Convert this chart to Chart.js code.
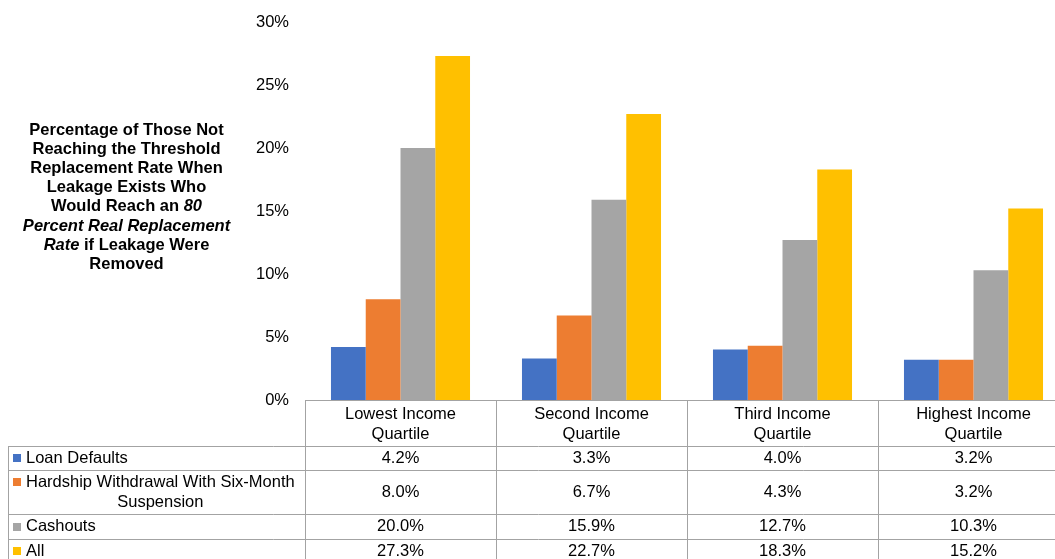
<!DOCTYPE html>
<html>
<head>
<meta charset="utf-8">
<script src="https://cdn.jsdelivr.net/npm/chart.js@4/dist/chart.umd.min.js"></script>
<style>
  html, body { margin: 0; padding: 0; background: #fff; overflow: hidden; }
  #wrap { position: relative; width: 1075px; height: 559px; }
</style>
</head>
<body>
<div id="wrap"><canvas id="c"></canvas></div>
<script>
// chart data
const categories = [
  ['Lowest Income', 'Quartile'],
  ['Second Income', 'Quartile'],
  ['Third Income', 'Quartile'],
  ['Highest Income', 'Quartile']
];
const seriesNames = [
  ['Loan Defaults'],
  ['Hardship Withdrawal With Six-Month', 'Suspension'],
  ['Cashouts'],
  ['All']
];
const loanDefaults = [4.2, 3.3, 4.0, 3.2];
const hardship = [8.0, 6.7, 4.3, 3.2];
const cashouts = [20.0, 15.9, 12.7, 10.3];
const allLeakage = [27.3, 22.7, 18.3, 15.2];
const yTicks = [0, 5, 10, 15, 20, 25, 30];

const colors = ['#4472C4', '#ED7D31', '#A5A5A5', '#FFC000'];
const seriesValues = [loanDefaults, hardship, cashouts, allLeakage];

// y title, with bold / bold italic pieces
const titleLines = [
  [['Percentage of Those Not', 0]],
  [['Reaching the Threshold', 0]],
  [['Replacement Rate When', 0]],
  [['Leakage Exists Who', 0]],
  [['Would Reach an ', 0], ['80', 1]],
  [['Percent Real Replacement', 1]],
  [['Rate', 1], [' if Leakage Were', 0]],
  [['Removed', 0]]
];

const FONT = '"Liberation Sans", Arial, sans-serif';
const FS = 16.5;

const tablePlugin = {
  id: 'tablePlugin',
  afterDraw(chart) {
    const ctx = chart.ctx;
    const x = chart.scales.x;
    const area = chart.chartArea;
    const H = chart.height;
    const step = (x.right - x.left) / categories.length;
    const headerH = 46;
    const rowH = [24, 44, 25, 24];
    const leftX = 8;
    const px = v => Math.round(v) + 0.5;

    ctx.save();
    ctx.strokeStyle = '#a3a3a3';
    ctx.lineWidth = 1;
    ctx.beginPath();
    // top of header
    ctx.moveTo(x.left, px(area.bottom));
    ctx.lineTo(x.right, px(area.bottom));
    // column dividers
    for (let i = 0; i <= categories.length; i++) {
      const cx = px(x.left + i * step);
      ctx.moveTo(cx, area.bottom);
      ctx.lineTo(cx, H);
    }
    // rows
    let y = area.bottom + headerH;
    const rowTops = [];
    for (let r = 0; r < rowH.length; r++) {
      rowTops.push(y);
      ctx.moveTo(leftX, px(y));
      ctx.lineTo(x.right, px(y));
      y += rowH[r];
    }
    ctx.moveTo(leftX, px(y));
    ctx.lineTo(x.right, px(y));
    ctx.moveTo(px(leftX), rowTops[0]);
    ctx.lineTo(px(leftX), H);
    ctx.stroke();

    // cells
    ctx.fillStyle = '#000';
    ctx.font = FS + 'px ' + FONT;
    ctx.textBaseline = 'middle';
    for (let r = 0; r < seriesValues.length; r++) {
      const cy = rowTops[r] + rowH[r] / 2;
      ctx.textAlign = 'center';
      seriesValues[r].forEach((v, i) => {
        ctx.fillText(v.toFixed(1) + '%', x.left + (i + 0.5) * step, cy);
      });
      // legend label
      const lines = seriesNames[r];
      const lh = 20;
      const y0 = cy - (lines.length - 1) * lh / 2;
      const tx = 26;
      const w0 = ctx.measureText(lines[0]).width;
      ctx.fillStyle = colors[r];
      ctx.fillRect(13, Math.round(y0) - 4, 8, 8);
      ctx.fillStyle = '#000';
      ctx.textAlign = 'left';
      ctx.fillText(lines[0], tx, y0);
      ctx.textAlign = 'center';
      for (let k = 1; k < lines.length; k++) {
        ctx.fillText(lines[k], tx + w0 / 2, y0 + k * lh);
      }
    }

    // y title
    const cx = 126.5;
    let ty = 130;
    ctx.textAlign = 'left';
    titleLines.forEach(line => {
      let total = 0;
      line.forEach(seg => {
        ctx.font = (seg[1] ? 'italic bold ' : 'bold ') + FS + 'px ' + FONT;
        total += ctx.measureText(seg[0]).width;
      });
      let sx = cx - total / 2;
      line.forEach(seg => {
        ctx.font = (seg[1] ? 'italic bold ' : 'bold ') + FS + 'px ' + FONT;
        ctx.fillText(seg[0], sx, ty);
        sx += ctx.measureText(seg[0]).width;
      });
      ty += 19.2;
    });
    ctx.restore();
  }
};

new Chart(document.getElementById('c'), {
  type: 'bar',
  data: {
    labels: categories,
    datasets: seriesNames.map((n, i) => ({
      label: n.join(' '),
      data: seriesValues[i],
      backgroundColor: colors[i],
      borderWidth: 0,
      barPercentage: 1,
      categoryPercentage: 0.728
    }))
  },
  options: {
    responsive: true,
    maintainAspectRatio: false,
    animation: false,
    layout: { padding: { top: 22, right: 6, left: 0, bottom: 0 } },
    plugins: { legend: { display: false }, tooltip: { enabled: false } },
    scales: {
      x: {
        grid: { display: false, drawTicks: false },
        border: { display: false },
        ticks: {
          color: '#000',
          font: { family: FONT, size: FS, lineHeight: 1.2 },
          padding: 5,
          maxRotation: 0,
          autoSkip: false
        },
        afterFit(scale) { scale.height = 159; }
      },
      y: {
        min: 0,
        max: 30,
        grid: { display: false, drawTicks: false },
        border: { display: false },
        afterBuildTicks(scale) { scale.ticks = yTicks.map(v => ({ value: v })); },
        ticks: {
          color: '#000',
          font: { family: FONT, size: FS },
          padding: 16,
          callback: v => v + '%'
        },
        afterFit(scale) {
          scale.width = 305;
          scale.paddingTop = 10;
          scale.paddingBottom = 10;
        }
      }
    }
  },
  plugins: [tablePlugin]
});
</script>
</body>
</html>
